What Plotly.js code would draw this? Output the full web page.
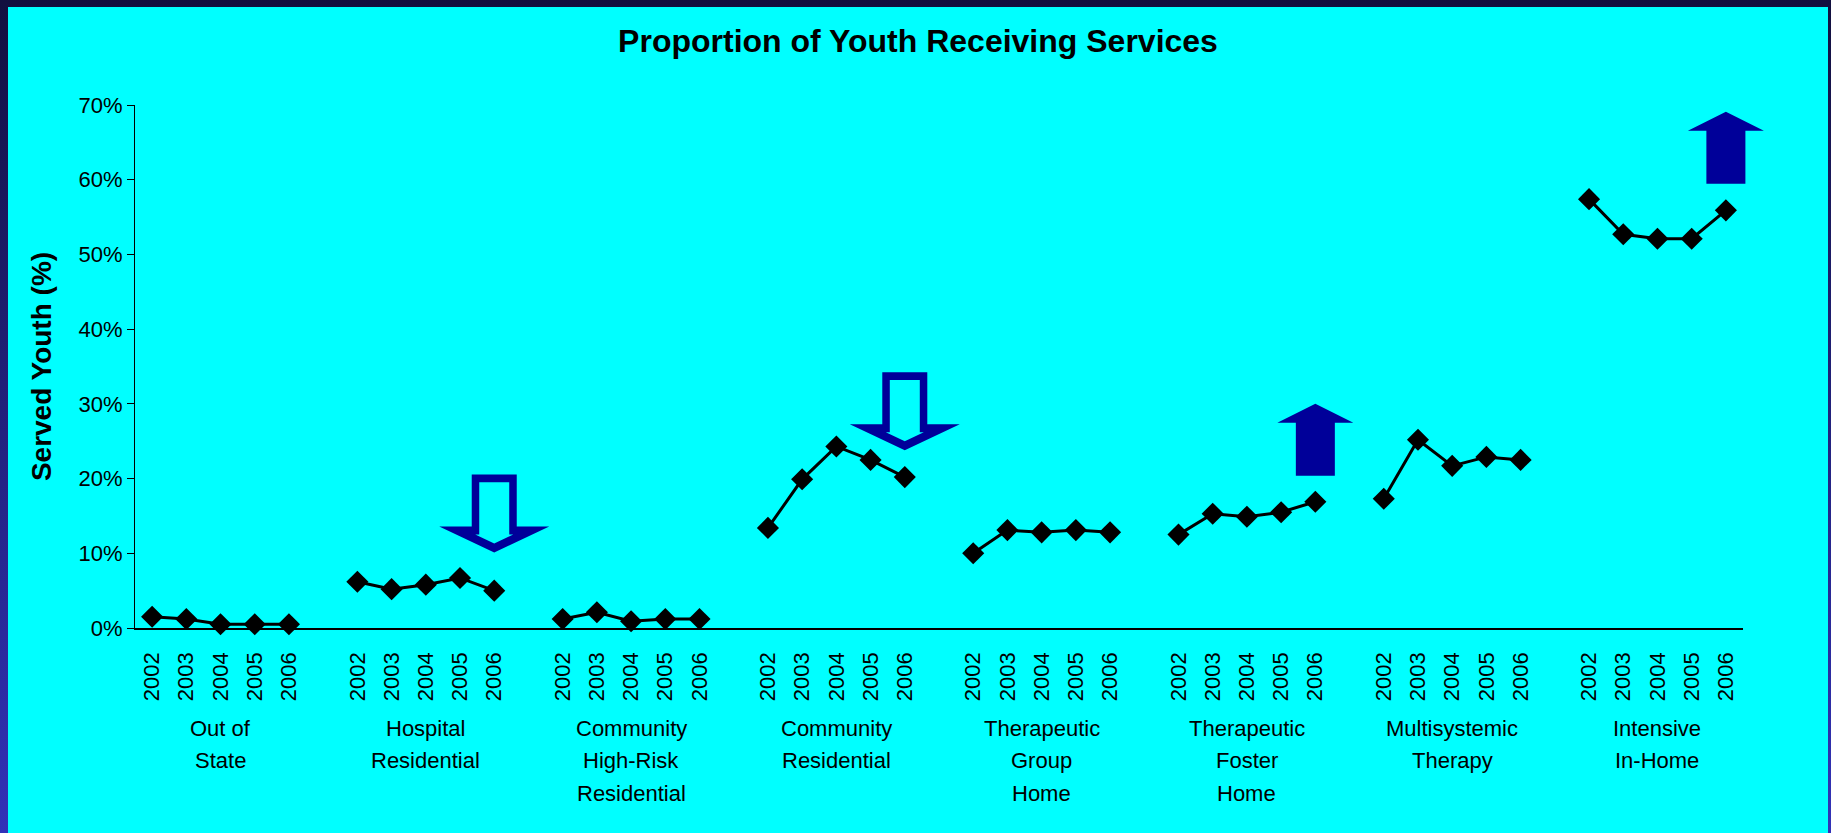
<!DOCTYPE html>
<html>
<head>
<meta charset="utf-8">
<script src="https://cdn.plot.ly/plotly-3.0.1.min.js"></script>
<style>
  html, body { margin: 0; padding: 0; width: 1831px; height: 833px; overflow: hidden;
    background: linear-gradient(to bottom, #12103f 0%, #1e1e70 40%, #3232b8 100%); }
  #chart { position: absolute; left: 8px; top: 7px; width: 1820px; height: 826px; }
</style>
</head>
<body>
<div id="chart"></div>
<script>
// ---- data ----
const categories = [
  "Out of<br>State",
  "Hospital<br>Residential",
  "Community<br>High-Risk<br>Residential",
  "Community<br>Residential",
  "Therapeutic<br>Group<br>Home",
  "Therapeutic<br>Foster<br>Home",
  "Multisystemic<br>Therapy",
  "Intensive<br>In-Home"
];
const years = ["2002", "2003", "2004", "2005", "2006"];

const outOfState          = [1.5, 1.2, 0.5, 0.5, 0.5];
const hospitalResidential = [6.2, 5.2, 5.8, 6.7, 5.0];
const communityHighRisk   = [1.2, 2.1, 0.9, 1.2, 1.2];
const communityResidential= [13.4, 19.9, 24.3, 22.5, 20.2];
const therapeuticGroup    = [10.0, 13.1, 12.8, 13.1, 12.8];
const therapeuticFoster   = [12.5, 15.3, 14.9, 15.5, 16.9];
const multisystemic       = [17.3, 25.2, 21.7, 22.9, 22.5];
const intensiveInHome     = [57.4, 52.7, 52.1, 52.1, 55.9];

const seriesValues = [outOfState, hospitalResidential, communityHighRisk, communityResidential,
                      therapeuticGroup, therapeuticFoster, multisystemic, intensiveInHome];

// trend arrows: category index, direction, tip value (%)
const arrowGroups = [1, 3, 5, 7];
const arrowDirs   = ["down", "down", "up", "up"];
const arrowTips   = [10.1, 23.8, 30.0, 69.1];

// ---- layout geometry ----
const W = 1820, H = 826;
const M = {l: 127, r: 85, t: 98, b: 205};
const PW = W - M.l - M.r, PH = H - M.t - M.b;
const slot = years.length + 1;
const nSlots = categories.length * slot - 1;
const xRange = [-0.5, nSlots - 0.5];
const yRange = [0, 70];
const FONT = "Arial, 'Liberation Sans', sans-serif";

const traces = [];
const tickvals = [], ticktext = [];
categories.forEach((c, g) => {
  const xs = years.map((y, i) => g * slot + i);
  xs.forEach((x, i) => { tickvals.push(x); ticktext.push(years[i]); });
  traces.push({
    x: xs, y: seriesValues[g], type: "scatter", mode: "lines+markers",
    line: {color: "#000000", width: 3},
    marker: {symbol: "diamond", size: 17, color: "#000000"},
    hoverinfo: "skip", showlegend: false, cliponaxis: false
  });
});

// group label annotations (one per line)
const annotations = [];
categories.forEach((c, g) => {
  c.split("<br>").forEach((line, k) => {
    annotations.push({
      xref: "x", yref: "paper", x: g * slot + (years.length - 1) / 2, y: 0,
      text: line, showarrow: false, xanchor: "center", yanchor: "middle",
      yshift: -100 - 32.5 * k,
      font: {family: FONT, size: 22, color: "#000000"}
    });
  });
});

// arrow shapes in paper coordinates
function toPX(d, dx) { return (d - xRange[0]) / (xRange[1] - xRange[0]) + dx / PW; }
function toPY(v, dy) { return (v - yRange[0]) / (yRange[1] - yRange[0]) + dy / PH; }
function poly(d, v, pts) {
  return pts.map((p, i) => (i ? "L" : "M") + toPX(d, p[0]).toFixed(5) + "," + toPY(v, p[1]).toFixed(5)).join(" ") + " Z";
}
const shapes = [];
arrowGroups.forEach((g, i) => {
  const d = g * slot + (years.length - 1);
  const v = arrowTips[i];
  if (arrowDirs[i] === "down") {
    const outer = [[0,0],[55,26],[22.5,26],[22.5,78],[-22.5,78],[-22.5,26],[-55,26]];
    const inner = [[0,9],[19,18],[15,18],[15,70.3],[-15,70.3],[-15,18],[-19,18]];
    shapes.push({type: "path", xref: "paper", yref: "paper", path: poly(d, v, outer),
      fillcolor: "#000099", line: {width: 0}, layer: "above"});
    shapes.push({type: "path", xref: "paper", yref: "paper", path: poly(d, v, inner),
      fillcolor: "#00FFFF", line: {width: 0}, layer: "above"});
  } else {
    const pts = [[0,0],[38,-19],[19.5,-19],[19.5,-72],[-19.5,-72],[-19.5,-19],[-38,-19]];
    shapes.push({type: "path", xref: "paper", yref: "paper", path: poly(d, v, pts),
      fillcolor: "#000099", line: {width: 0}, layer: "above"});
  }
});

const layout = {
  width: W, height: H,
  margin: M,
  paper_bgcolor: "#00FFFF", plot_bgcolor: "#00FFFF",
  font: {family: FONT, color: "#000000"},
  title: {
    text: "<b>Proportion of Youth Receiving Services</b>",
    font: {family: FONT, size: 32, color: "#000000"},
    x: 0.5, xref: "container", xanchor: "center",
    y: 1 - 34 / H, yref: "container", yanchor: "middle"
  },
  xaxis: {
    range: xRange, showgrid: false, zeroline: false,
    showline: true, linecolor: "#000000", linewidth: 1.5,
    tickmode: "array", tickvals: tickvals, ticktext: ticktext,
    tickangle: -90, ticks: "", ticklabelstandoff: 14,
    tickfont: {family: FONT, size: 22, color: "#000000"},
    fixedrange: true
  },
  yaxis: {
    range: yRange, dtick: 10, ticksuffix: "%", showgrid: false, zeroline: false,
    showline: true, linecolor: "#000000", linewidth: 1,
    ticks: "outside", ticklen: 7, tickcolor: "#000000", tickwidth: 1,
    tickfont: {family: FONT, size: 22, color: "#000000"},
    title: {text: "<b>Served Youth (%)</b>", font: {family: FONT, size: 28, color: "#000000"}, standoff: 18},
    fixedrange: true
  },
  annotations: annotations,
  shapes: shapes,
  showlegend: false,
  hovermode: false
};

Plotly.newPlot("chart", traces, layout, {displayModeBar: false, staticPlot: true});
</script>
</body>
</html>
